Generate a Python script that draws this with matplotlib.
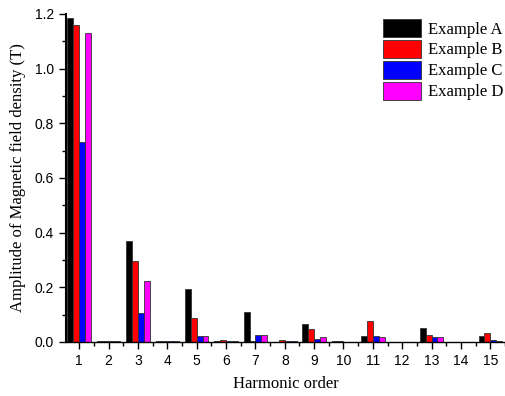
import matplotlib.pyplot as plt
import numpy as np
from matplotlib.ticker import MultipleLocator

# harmonic orders and amplitudes (T)
orders = np.arange(1, 16)
labels = ['Example A', 'Example B', 'Example C', 'Example D']
colors = ['black', 'red', 'blue', 'magenta']

example_a = [1.184, 0.002, 0.370, 0.002, 0.194, 0.002, 0.111, 0.001, 0.065, 0.002, 0.022, 0.001, 0.050, 0.001, 0.022]
example_b = [1.161, 0.003, 0.296, 0.005, 0.088, 0.006, 0.002, 0.007, 0.048, 0.003, 0.076, 0.001, 0.026, 0.001, 0.032]
example_c = [0.730, 0.005, 0.107, 0.002, 0.023, 0.002, 0.024, 0.002, 0.010, 0.001, 0.022, 0.001, 0.017, 0.001, 0.007]
example_d = [1.129, 0.003, 0.223, 0.005, 0.022, 0.003, 0.025, 0.002, 0.018, 0.001, 0.019, 0.001, 0.020, 0.001, 0.004]
series = [example_a, example_b, example_c, example_d]

fig = plt.figure(figsize=(5.05, 3.96), dpi=100)
ax = fig.add_axes([0.1307, 0.1364, 0.8693, 0.8283])

width = 0.2
offsets = [-0.3, -0.1, 0.1, 0.3]
for vals, lab, col, off in zip(series, labels, colors, offsets):
    ax.bar(orders + off, vals, width=width, color=col, edgecolor='#333333',
           linewidth=0.6, label=lab)

ax.set_xlim(0.55, 15.5)
ax.set_ylim(0, 1.2)
ax.set_xticks(orders)
ax.xaxis.set_minor_locator(MultipleLocator(0.5))
ax.yaxis.set_major_locator(MultipleLocator(0.2))
ax.yaxis.set_minor_locator(MultipleLocator(0.1))
ax.set_yticklabels([f'{v:.1f}' for v in ax.get_yticks()])

for s in ['top', 'right']:
    ax.spines[s].set_visible(False)
ax.spines['left'].set_linewidth(1.5)
ax.spines['bottom'].set_linewidth(1.0)

ax.tick_params(axis='both', which='major', direction='out', length=5, width=1,
               labelsize=10)
ax.tick_params(axis='both', which='minor', direction='out', length=3, width=1)
for t in ax.get_xticklabels() + ax.get_yticklabels():
    t.set_fontfamily('Liberation Sans')

ax.set_xlabel('Harmonic order', fontfamily='Liberation Serif', fontsize=12, labelpad=6)
ax.set_ylabel('Amplitude of Magnetic field density (T)', fontfamily='Liberation Serif',
              fontsize=12, labelpad=6)

ax.legend(loc='upper right', bbox_to_anchor=(1.03, 1.03), frameon=False,
          prop={'family': 'Liberation Serif', 'size': 12},
          handlelength=2.3, handleheight=1.25, labelspacing=0.15, handletextpad=0.4)

fig.savefig('out.png', dpi=100)
